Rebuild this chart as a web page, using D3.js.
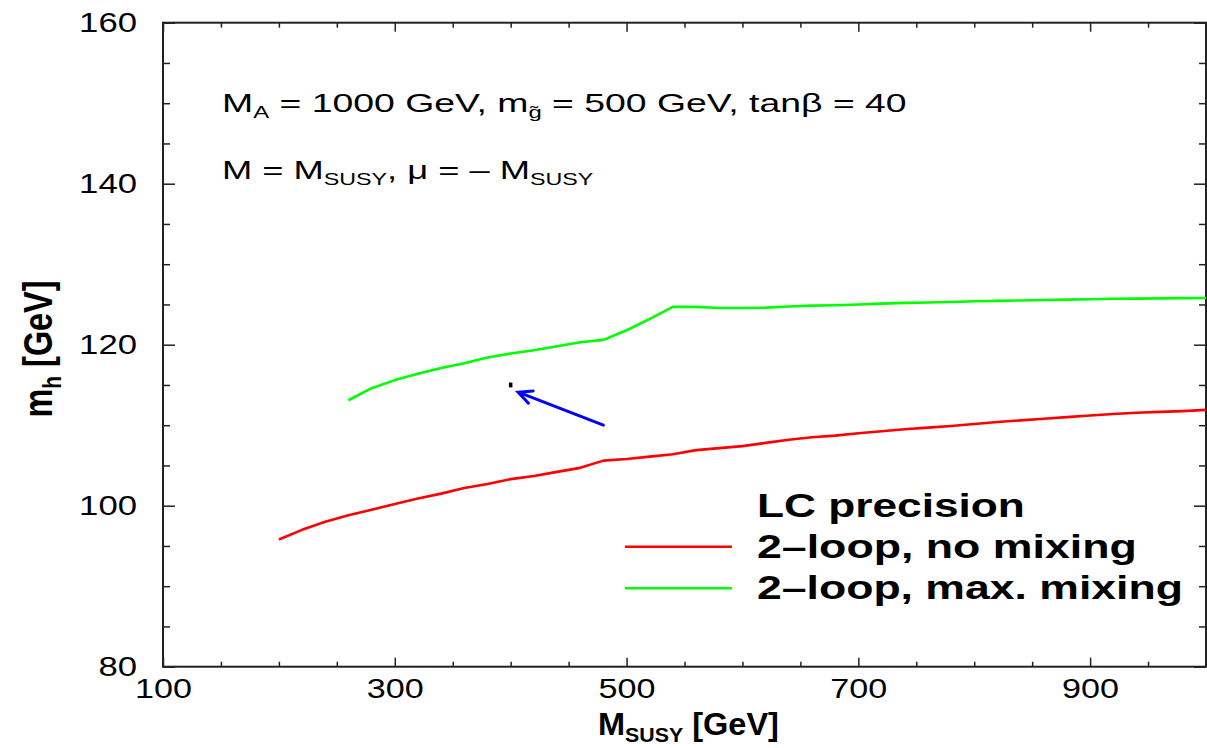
<!DOCTYPE html>
<html>
<head>
<meta charset="utf-8">
<script src="https://cdn.jsdelivr.net/npm/d3@7"></script>
<style>
  body { margin: 0; background: #fff; }
  svg { display: block; font-family: "Liberation Sans", Arial, Helvetica, sans-serif; }
</style>
</head>
<body>
<svg id="chart" width="1207" height="748"></svg>
<script>
// Light Higgs mass m_h versus the common SUSY mass scale M_SUSY
const noMixX = [200,220,240,260,280,300,320,340,360,380,400,420,440,460,480,500,520,540,560,580,600,620,640,660,680,700,720,740,760,780,800,820,840,860,880,900,920,940,960,980,1000];
const noMixY = [95.8,97.0,98.0,98.8,99.5,100.2,100.9,101.5,102.2,102.7,103.3,103.7,104.2,104.7,105.6,105.8,106.1,106.4,106.9,107.15,107.4,107.8,108.2,108.5,108.7,109.0,109.25,109.5,109.7,109.9,110.15,110.4,110.6,110.8,111.0,111.2,111.4,111.55,111.65,111.75,111.9];

const maxMixX = [260,280,300,320,340,360,380,400,420,440,460,480,500,520,540,560,580,600,620,640,660,680,700,720,740,760,780,800,820,840,860,880,900,920,940,960,980,1000];
const maxMixY = [113.1,114.6,115.6,116.4,117.1,117.7,118.4,118.9,119.3,119.8,120.3,120.6,121.8,123.2,124.7,124.7,124.55,124.55,124.6,124.75,124.85,124.9,125.0,125.1,125.2,125.25,125.3,125.4,125.45,125.5,125.55,125.6,125.65,125.7,125.72,125.75,125.78,125.8];

// LC precision point (central value and half-width) and the arrow pointing at it
const lcPoint = [400, 115.0, 0.3];
const arrowFrom = [480, 110.0];
const arrowTo = [406.5, 114.1];

const xMajorTicks = [100, 300, 500, 700, 900];
const yMajorTicks = [80, 100, 120, 140, 160];
const xMinorStep = 50;
const yMinorStep = 5;

const legendTitle = "LC precision";
const seriesLabels = ["2\u2013loop, no mixing", "2\u2013loop, max. mixing"];
const seriesColors = ["#ff0000", "#00ff00"];

const svg = d3.select("#chart");
const x = d3.scaleLinear().domain([100, 1000]).range([163, 1206]);
const y = d3.scaleLinear().domain([80, 160]).range([666.7, 22.7]);

// horizontally stretch a text element to a given width, anchored at (ax, ay)
function fitText(sel, ax, ay, width, extra) {
  const w = sel.node().getBBox().width;
  const k = width / w;
  sel.attr("x", 0).attr("y", 0)
     .attr("transform", `translate(${ax},${ay}) ${extra || ""} scale(${k},1)`);
}

const tickColor = "#222";

// ---- axes (ticks point inward on all four sides) ----
const xMinor = d3.range(100, 1001, xMinorStep).filter(v => !xMajorTicks.includes(v) && v > 100 && v < 1000);
const yMinor = d3.range(80, 161, yMinorStep).filter(v => !yMajorTicks.includes(v));

function styleAxis(g) {
  g.select(".domain").remove();
  g.selectAll(".tick line").attr("stroke", tickColor).attr("stroke-width", 1.5);
}

const gBottom = svg.append("g").attr("transform", `translate(0,${y(80)})`)
  .call(d3.axisBottom(x).tickValues(xMajorTicks).tickSizeInner(-9).tickSizeOuter(0).tickPadding(11).tickFormat(d3.format("d")));
styleAxis(gBottom);
gBottom.selectAll(".tick text").attr("font-size", 28).attr("fill", "#000")
  .attr("font-family", "Liberation Sans, Arial, sans-serif")
  .each(function() {
    const t = d3.select(this);
    const yy = +t.attr("y");
    t.attr("y", 0).attr("transform", `translate(0,${yy}) scale(1.22,1)`);
  });
svg.append("g").attr("transform", `translate(0,${y(80)})`)
  .call(d3.axisBottom(x).tickValues(xMinor).tickSizeInner(-5).tickSizeOuter(0).tickFormat(""))
  .call(styleAxis);

svg.append("g").attr("transform", `translate(0,${y(160)})`)
  .call(d3.axisTop(x).tickValues(xMajorTicks).tickSizeInner(-9).tickSizeOuter(0).tickFormat(""))
  .call(styleAxis);
svg.append("g").attr("transform", `translate(0,${y(160)})`)
  .call(d3.axisTop(x).tickValues(xMinor).tickSizeInner(-5).tickSizeOuter(0).tickFormat(""))
  .call(styleAxis);

const gLeft = svg.append("g").attr("transform", `translate(${x(100)},0)`)
  .call(d3.axisLeft(y).tickValues(yMajorTicks).tickSizeInner(-12).tickSizeOuter(0).tickPadding(26).tickFormat(d3.format("d")));
styleAxis(gLeft);
gLeft.selectAll(".tick text").attr("font-size", 28).attr("fill", "#000")
  .attr("font-family", "Liberation Sans, Arial, sans-serif")
  .each(function() {
    const t = d3.select(this);
    const xx = +t.attr("x");
    t.attr("x", 0).attr("transform", `translate(${xx},0) scale(1.24,1)`);
  });
svg.append("g").attr("transform", `translate(${x(100)},0)`)
  .call(d3.axisLeft(y).tickValues(yMinor).tickSizeInner(-7).tickSizeOuter(0).tickFormat(""))
  .call(styleAxis);

svg.append("g").attr("transform", `translate(${x(1000)},0)`)
  .call(d3.axisRight(y).tickValues(yMajorTicks).tickSizeInner(-12).tickSizeOuter(0).tickFormat(""))
  .call(styleAxis);
svg.append("g").attr("transform", `translate(${x(1000)},0)`)
  .call(d3.axisRight(y).tickValues(yMinor).tickSizeInner(-7).tickSizeOuter(0).tickFormat(""))
  .call(styleAxis);

// frame
svg.append("rect")
  .attr("x", x(100)).attr("y", y(160))
  .attr("width", x(1000) - x(100)).attr("height", y(80) - y(160))
  .attr("fill", "none").attr("stroke", tickColor).attr("stroke-width", 2);

// ---- curves ----
const line = d3.line().x(d => x(d[0])).y(d => y(d[1]));
const series = [d3.zip(noMixX, noMixY), d3.zip(maxMixX, maxMixY)];
svg.append("g").selectAll("path").data(series).join("path")
  .attr("d", line)
  .attr("fill", "none")
  .attr("stroke", (d, i) => seriesColors[i])
  .attr("stroke-width", 2.6)
  .attr("stroke-linejoin", "round");

// LC precision point
svg.append("line")
  .attr("x1", x(lcPoint[0])).attr("x2", x(lcPoint[0]))
  .attr("y1", y(lcPoint[1] - lcPoint[2])).attr("y2", y(lcPoint[1] + lcPoint[2]))
  .attr("stroke", "#000").attr("stroke-width", 3.5);

// arrow
const ax0 = x(arrowFrom[0]), ay0 = y(arrowFrom[1]);
const ax1 = x(arrowTo[0]), ay1 = y(arrowTo[1]);
const ang = Math.atan2(ay0 - ay1, ax0 - ax1);
const headLen = 15, headAng = 0.45;
const arrowPath = d3.path();
arrowPath.moveTo(ax0, ay0); arrowPath.lineTo(ax1, ay1);
arrowPath.moveTo(ax1 + headLen * Math.cos(ang - headAng), ay1 + headLen * Math.sin(ang - headAng));
arrowPath.lineTo(ax1, ay1);
arrowPath.lineTo(ax1 + headLen * Math.cos(ang + headAng), ay1 + headLen * Math.sin(ang + headAng));
svg.append("path").attr("d", arrowPath.toString())
  .attr("fill", "none").attr("stroke", "#0000ff").attr("stroke-width", 3)
  .attr("stroke-linejoin", "miter").attr("stroke-linecap", "round");

// ---- annotation text ----
const ann1 = svg.append("text").attr("font-size", 25).attr("fill", "#000");
ann1.append("tspan").text("M");
ann1.append("tspan").attr("font-size", 16).attr("dy", 6).text("A");
ann1.append("tspan").attr("dy", -6).text(" = 1000 GeV, m");
ann1.append("tspan").attr("font-size", 16).attr("dy", 6).text("g\u0303");
ann1.append("tspan").attr("dy", -6).text(" = 500 GeV, tan\u03B2 = 40");
fitText(ann1, 222, 112, 685);

const ann2 = svg.append("text").attr("font-size", 25).attr("fill", "#000");
ann2.append("tspan").text("M = M");
ann2.append("tspan").attr("font-size", 16).attr("dy", 6).text("SUSY");
ann2.append("tspan").attr("dy", -6).text(", \u03BC = \u2013 M");
ann2.append("tspan").attr("font-size", 16).attr("dy", 6).text("SUSY");
fitText(ann2, 222, 179, 372);

// ---- legend ----
const legTitle = svg.append("text").attr("font-size", 33).attr("font-weight", "bold").text(legendTitle);
fitText(legTitle, 757, 517, 268);
const legY = [546.7, 588.3];
const legBase = [558, 599];
const legW = [380, 426];
seriesLabels.forEach((lab, i) => {
  svg.append("line").attr("x1", 625).attr("x2", 732).attr("y1", legY[i]).attr("y2", legY[i])
    .attr("stroke", seriesColors[i]).attr("stroke-width", 2.6);
  const t = svg.append("text").attr("font-size", 33).attr("font-weight", "bold").text(lab);
  fitText(t, 757, legBase[i], legW[i]);
});

// ---- axis titles ----
const xt = svg.append("text").attr("font-size", 32).attr("font-weight", "bold");
xt.append("tspan").text("M");
xt.append("tspan").attr("font-size", 21).attr("dy", 7).text("SUSY");
xt.append("tspan").attr("dy", -7).text(" [GeV]");
fitText(xt, 598, 735, 181);

const yt = svg.append("text").attr("font-size", 31).attr("font-weight", "bold").attr("text-anchor", "middle");
yt.append("tspan").text("m");
yt.append("tspan").attr("font-size", 20).attr("dy", 7).text("h");
yt.append("tspan").attr("dy", -7).text(" [GeV]");
{
  const w = yt.node().getBBox().width;
  yt.attr("x", 0).attr("y", 0)
    .attr("transform", `translate(52,349) rotate(-90) scale(${137 / w},1.32)`);
}
</script>
</body>
</html>
